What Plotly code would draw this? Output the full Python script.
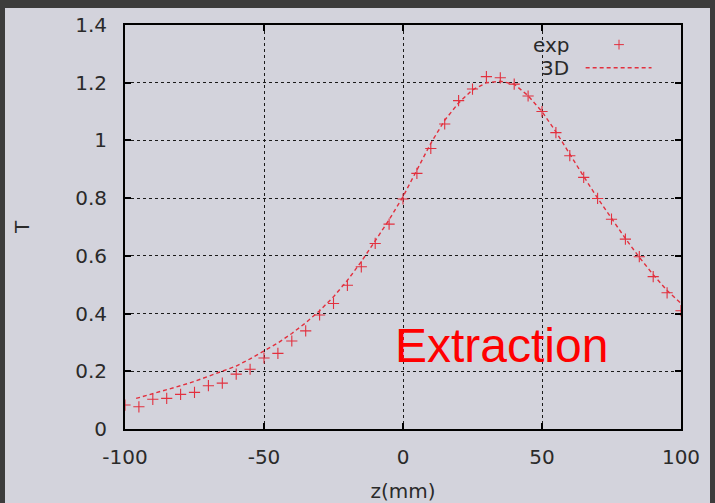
import plotly.graph_objects as go

# Measured transmission along z
z_exp = [-100, -95, -90, -85, -80, -75, -70, -65, -60, -55, -50, -45, -40, -35, -30,
         -25, -20, -15, -10, -5, 0, 5, 10, 15, 20, 25, 30, 35, 40, 45,
         50, 55, 60, 65, 70, 75, 80, 85, 90, 95, 100]
t_exp = [0.083, 0.077, 0.103, 0.106, 0.12, 0.127, 0.15, 0.159, 0.19, 0.207, 0.246, 0.262,
         0.305, 0.34, 0.395, 0.435, 0.498, 0.562, 0.643, 0.71, 0.797, 0.886, 0.972, 1.057,
         1.138, 1.178, 1.221, 1.217, 1.195, 1.154, 1.10, 1.027, 0.947, 0.872, 0.799, 0.727,
         0.658, 0.597, 0.528, 0.472, 0.41]

# 3D simulation curve
z_3d = [-96, -90, -85, -80, -75, -70, -65, -60, -55, -50, -45, -40, -35, -30, -25, -20,
        -15, -10, -5, 0, 5, 10, 15, 20, 25, 30, 35, 40, 45, 50, 55, 60, 65, 70, 75, 80,
        85, 90, 95, 100]
t_3d = [0.106, 0.122, 0.135, 0.15, 0.165, 0.182, 0.199, 0.218, 0.243, 0.27, 0.298, 0.331,
        0.368, 0.41, 0.458, 0.515, 0.58, 0.652, 0.725, 0.805, 0.895, 0.99, 1.07, 1.13,
        1.175, 1.2, 1.205, 1.195, 1.155, 1.10, 1.03, 0.95, 0.875, 0.80, 0.728, 0.66,
        0.595, 0.535, 0.48, 0.435]

x_ticks = [-100, -50, 0, 50, 100]
x_tick_text = ["-100", "-50", "0", "50", "100"]
y_ticks = [0, 0.2, 0.4, 0.6, 0.8, 1, 1.2, 1.4]
y_tick_text = ["0", "0.2", "0.4", "0.6", "0.8", "1", "1.2", "1.4"]

RED = "#e2303e"
BG = "#d3d3dc"
DARK = "#3c3c3c"
TXT = "#2a2a2a"
FONT = "DejaVu Sans, sans-serif"
BIG_FONT = "Liberation Sans, Arial, sans-serif"

fig = go.Figure()
fig.add_trace(go.Scatter(x=z_3d, y=t_3d, mode="lines",
                         line=dict(color=RED, width=1.4, dash="4px,3px"),
                         showlegend=False))
fig.add_trace(go.Scatter(x=z_exp, y=t_exp, mode="markers",
                         marker=dict(symbol="cross-thin", size=8,
                                     line=dict(color=RED, width=1.1)),
                         showlegend=False))

# key: sample marker and sample line
fig.add_trace(go.Scatter(x=[77.7], y=[1.332], mode="markers",
                         marker=dict(symbol="cross-thin", size=7,
                                     line=dict(color=RED, width=1.0)),
                         showlegend=False))
fig.add_shape(type="line", xref="x", yref="y", x0=65.7, x1=89.4, y0=1.252, y1=1.252,
              line=dict(color=RED, width=1.4, dash="4px,3px"))
fig.add_annotation(x=60.4, y=1.332, xref="x", yref="y", text="exp", showarrow=False,
                   xanchor="right", yanchor="middle", height=21, valign="middle",
                   font=dict(family=FONT, size=20, color=TXT))
fig.add_annotation(x=60.4, y=1.254, xref="x", yref="y", text="3D", showarrow=False,
                   xanchor="right", yanchor="middle", height=21, valign="middle",
                   font=dict(family=FONT, size=20, color=TXT))

fig.add_annotation(x=35.5, y=0.29, xref="x", yref="y", text="Extraction", showarrow=False,
                   xanchor="center", yanchor="middle",
                   font=dict(family=BIG_FONT, size=48, color="#ff0000"))

# light page area inside the dark border
fig.add_shape(type="rect", xref="paper", yref="paper", layer="below",
              x0=(5 - 125) / 556, x1=(710 - 125) / 556,
              y0=(429 - 503) / 404, y1=(429 - 8) / 404,
              fillcolor=BG, line=dict(width=0))

axis_common = dict(
    showline=True, linecolor="black", linewidth=2, mirror="ticks",
    ticks="inside", ticklen=6, tickwidth=2, tickcolor="black",
    showgrid=True, gridcolor="#1a1a1a", gridwidth=1, griddash="dot",
    zeroline=False, automargin=False,
    tickfont=dict(family=FONT, size=20, color=TXT),
)

fig.update_xaxes(range=[-100, 100], tickvals=x_ticks, ticktext=x_tick_text,
                 ticklabelstandoff=9,
                 title=dict(text="z(mm)", font=dict(family=FONT, size=20, color=TXT),
                            standoff=18),
                 **axis_common)
fig.update_yaxes(range=[0, 1.4], tickvals=y_ticks, ticktext=y_tick_text,
                 ticklabelstandoff=12,
                 title=dict(text="T", font=dict(family=FONT, size=20, color=TXT),
                            standoff=40),
                 **axis_common)

fig.update_layout(
    width=715, height=503,
    margin=dict(l=125, r=34, t=25, b=74),
    paper_bgcolor=DARK, plot_bgcolor=BG,
    showlegend=False,
)

fig.write_html("out.html")
